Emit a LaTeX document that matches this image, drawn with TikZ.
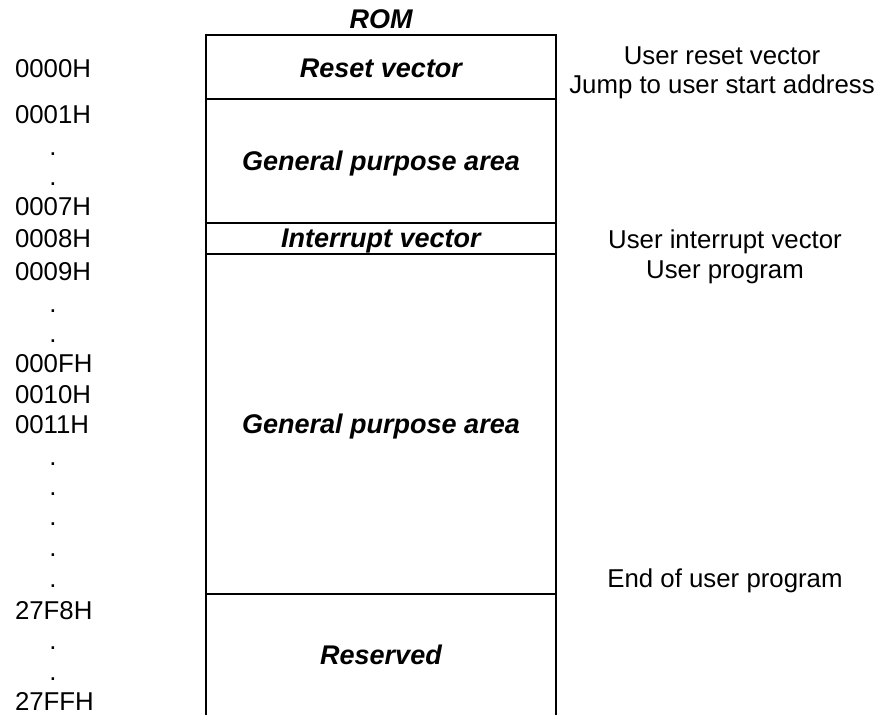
\documentclass[tikz,border=0pt]{standalone}
\usepackage{fontspec}
\setmainfont{Liberation Sans}
\usetikzlibrary{positioning}

\begin{document}
\begin{tikzpicture}[x=1pt,y=-1pt,line width=2pt,
                    every node/.style={inner sep=0pt,font=\fontsize{25.8}{30}\selectfont},
                    addr/.style={anchor=base west},
                    dotl/.style={anchor=base},
                    area/.style={anchor=base,font=\fontsize{27}{32}\selectfont\bfseries\itshape},
                    note/.style={anchor=base}]
                \useasboundingbox (0,0) rectangle (888,715);
                % the ROM column
                \coordinate (tl) at (206,35);
                \coordinate (tr) at (556,35);
                \coordinate (bl) at (206,715);
                \coordinate (br) at (556,715);
                \draw (bl) -- (tl) -- (tr) -- (br);
                \foreach \y/\n in {99/a,223/b,254/c,594/d}
                    \draw (206,\y) coordinate (\n l) -- (556,\y) coordinate (\n r);
                \node[area](rom) at (381,28) {ROM};
                \node[area](reset) at (381,77) {Reset vector};
                \node[area](gpa) at (381,170) {General purpose area};
                \node[area](intv) at (381,247) {Interrupt vector};
                \node[area](gpb) at (381,433) {General purpose area};
                \node[area](resv) at (381,664) {Reserved};
                % addresses
                \node[addr](a0000) at (14,77) {0000H};
                \node[addr](a0001) at (14,123) {0001H};
                \node[addr](a0007) at (14,215) {0007H};
                \node[addr](a0008) at (14,247) {0008H};
                \node[addr](a0009) at (14,280) {0009H};
                \node[addr](a000F) at (14,372) {000FH};
                \node[addr](a0010) at (14,403) {0010H};
                \node[addr](a0011) at (14,433) {0011H};
                \node[addr](a27F8) at (14,619) {27F8H};
                \node[addr](a27FF) at (14,710) {27FFH};
                \foreach \y [count=\i] in {155,185,312,342,465,495,525,556,587,649,680}
                    \node[dotl](dot\i) at (53,\y) {.};
                % notes
                \node[note](nreset) at (722,64) {User reset vector};
                \node[note](njump) at (722,93) {Jump to user start address};
                \node[note](nintv) at (725,248) {User interrupt vector};
                \node[note](nprog) at (725,278) {User program};
                \node[note](nend) at (725,587) {End of user program};
            \end{tikzpicture}
\end{document}
